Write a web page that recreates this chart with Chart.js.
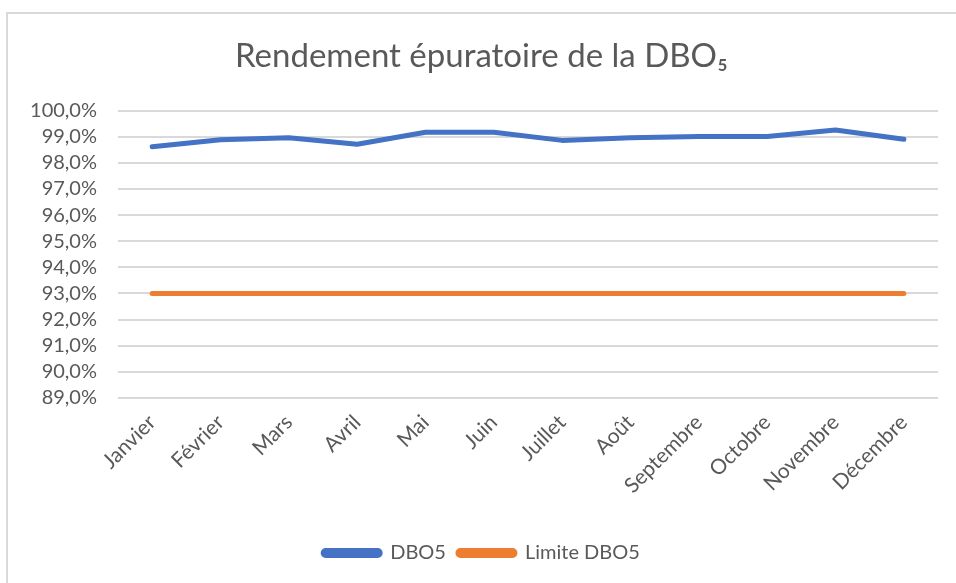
<!DOCTYPE html>
<html>
<head>
<meta charset="utf-8">
<script src="https://cdn.jsdelivr.net/npm/chart.js@4"></script>
<style>
  body { margin: 0; background: #fff; }
  #frame {
    position: absolute; left: 6px; top: 12px;
    width: 960px; height: 580px;
    border: 2px solid #d9d9d9; box-sizing: border-box;
  }
  #chart { position: absolute; left: 0; top: 0; }
</style>
</head>
<body>
<div id="frame"></div>
<canvas id="chart" width="956" height="583"></canvas>
<script>
const months = ['Janvier', 'Février', 'Mars', 'Avril', 'Mai', 'Juin', 'Juillet',
                'Août', 'Septembre', 'Octobre', 'Novembre', 'Décembre'];
const dbo5 = [98.62, 98.88, 98.96, 98.71, 99.17, 99.17, 98.86, 98.96, 99.01, 99.01, 99.26, 98.9];
const limite = [93, 93, 93, 93, 93, 93, 93, 93, 93, 93, 93, 93];

const textColor = '#595959';
const gridColor = '#d9d9d9';

const ctx = document.getElementById('chart').getContext('2d');
new Chart(ctx, {
    type: 'line',
    data: {
        labels: months,
        datasets: [{
            label: 'DBO5',
            data: dbo5,
            borderColor: '#4472c4',
            backgroundColor: '#4472c4',
            borderWidth: 5,
            pointRadius: 0,
            tension: 0,
            borderCapStyle: 'round',
            borderJoinStyle: 'round'
        }, {
            label: 'Limite DBO5',
            data: limite,
            borderColor: '#ed7d31',
            backgroundColor: '#ed7d31',
            borderWidth: 5,
            pointRadius: 0,
            tension: 0,
            borderCapStyle: 'round'
        }]
    },
    options: {
        responsive: false,
        animation: false,
        // left padding nudges title and legend to the right (y labels are clipped to the axis box)
        layout: { padding: { left: 25, right: 18, top: 0, bottom: 10 } },
        scales: {
            x: {
                offset: true,
                grid: { display: false },
                border: { display: false },
                ticks: {
                    color: textColor,
                    font: { family: 'Lato', size: 21 },
                    minRotation: 45,
                    maxRotation: 45,
                    padding: 4
                },
                afterFit: (scale) => { scale.height = 133; }
            },
            y: {
                min: 89,
                max: 100,
                grid: { color: gridColor, lineWidth: 2, drawTicks: false },
                border: { display: false },
                ticks: {
                    stepSize: 1,
                    autoSkip: false,
                    color: textColor,
                    padding: 21,
                    font: { family: 'Lato', size: 20 },
                    callback: (v) => v.toFixed(1).replace('.', ',') + '%'
                },
                afterFit: (scale) => { scale.width = 93; }
            }
        },
        plugins: {
            title: {
                display: true,
                text: 'Rendement épuratoire de la DBO₅',
                color: textColor,
                font: { family: 'Lato', size: 33, weight: 'normal' },
                padding: { top: 37, bottom: 34 }
            },
            legend: {
                position: 'bottom',
                labels: {
                    color: textColor,
                    font: { family: 'Lato', size: 20 },
                    boxWidth: 57,
                    boxHeight: 5,
                    useBorderRadius: true,
                    borderRadius: 2.5,
                    padding: 12
                }
            },
            tooltip: { enabled: false }
        }
    }
});
</script>
</body>
</html>
